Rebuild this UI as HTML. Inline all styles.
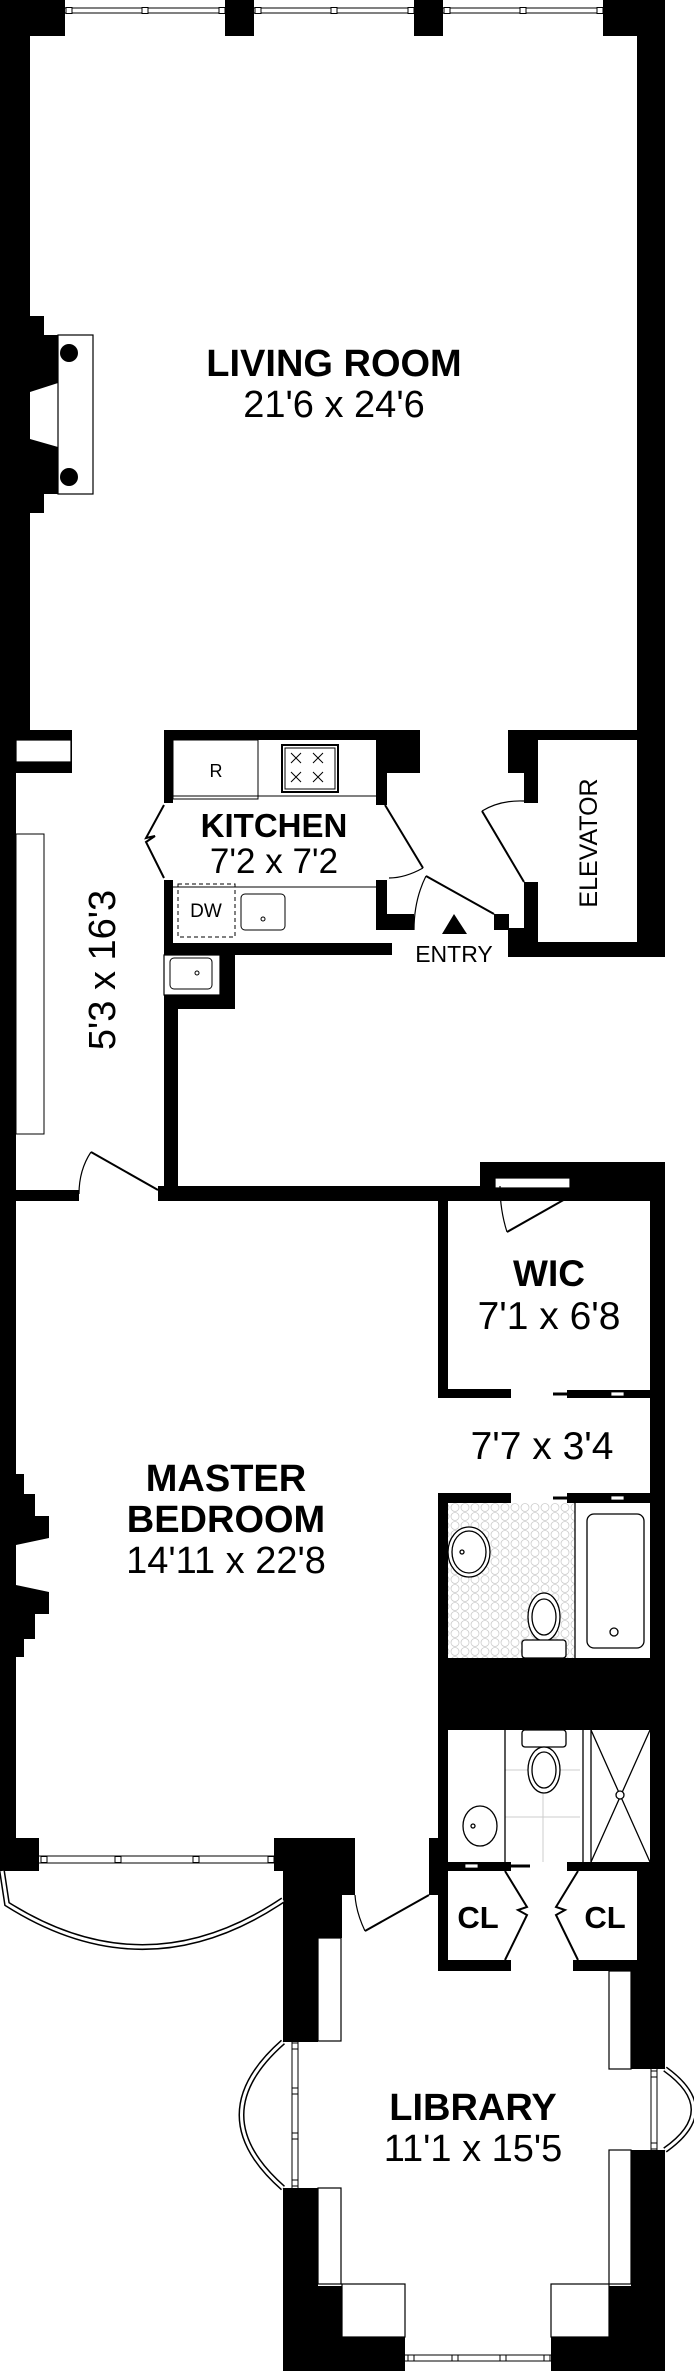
<!DOCTYPE html>
<html><head><meta charset="utf-8"><style>
html,body{margin:0;padding:0;background:#fff;}
svg{display:block;}
text{font-family:"Liberation Sans",Arial,sans-serif;fill:#000;}
.b{font-weight:bold;}
</style></head><body>
<svg width="694" height="2371" viewBox="0 0 694 2371" xmlns="http://www.w3.org/2000/svg">
<defs>
<pattern id="hex" width="10" height="9" patternUnits="userSpaceOnUse">
<circle cx="5" cy="4.5" r="4" fill="none" stroke="#ccc" stroke-width="0.8"/>
</pattern>
</defs>
<rect width="694" height="2371" fill="#fff"/>
<g fill="#000">
<rect x="0" y="0" width="665" height="36"/>
<rect x="0" y="0" width="30" height="730"/>
<rect x="637" y="0" width="28" height="957"/>
<rect x="0" y="316" width="44" height="197"/>
<rect x="0" y="335" width="58" height="159"/>
<rect x="0" y="730" width="72" height="43"/>
<rect x="0" y="773" width="16" height="1098"/>
<rect x="0" y="1190" width="79" height="11"/>
<rect x="164" y="730" width="256" height="10"/>
<rect x="376" y="730" width="44" height="43"/>
<rect x="376" y="773" width="11" height="32"/>
<rect x="164" y="740" width="9" height="63"/>
<rect x="164" y="880" width="9" height="65"/>
<rect x="376" y="880" width="11" height="34"/>
<rect x="376" y="914" width="38" height="16"/>
<rect x="164" y="943" width="228" height="12"/>
<rect x="220" y="955" width="15" height="54"/>
<rect x="164" y="995" width="71" height="14"/>
<rect x="164" y="1009" width="14" height="188"/>
<rect x="508" y="730" width="157" height="10"/>
<rect x="508" y="740" width="30" height="33"/>
<rect x="524" y="773" width="14" height="30"/>
<rect x="524" y="882" width="14" height="46"/>
<rect x="508" y="928" width="30" height="29"/>
<rect x="508" y="942" width="157" height="15"/>
<rect x="494" y="914" width="15" height="16"/>
<rect x="158" y="1186" width="507" height="15"/>
<rect x="480" y="1162" width="185" height="39"/>
<rect x="438" y="1200" width="10" height="198"/>
<rect x="438" y="1389" width="73" height="9"/>
<rect x="567" y="1390" width="98" height="8"/>
<rect x="650" y="1162" width="15" height="709"/>
<rect x="438" y="1493" width="73" height="10"/>
<rect x="567" y="1493" width="98" height="10"/>
<rect x="438" y="1493" width="10" height="371"/>
<rect x="438" y="1658" width="227" height="72"/>
<rect x="429" y="1862" width="82" height="9"/>
<rect x="567" y="1862" width="98" height="9"/>
<rect x="0" y="1474" width="24" height="183"/>
<rect x="0" y="1494" width="35" height="145"/>
<rect x="0" y="1516" width="49" height="98"/>
<rect x="0" y="1838" width="39" height="33"/>
<rect x="274" y="1838" width="81" height="33"/>
<rect x="429" y="1838" width="19" height="57"/>
<rect x="438" y="1871" width="10" height="100"/>
<rect x="438" y="1960" width="73" height="11"/>
<rect x="573" y="1960" width="92" height="11"/>
<rect x="637" y="1871" width="28" height="100"/>
<rect x="283" y="1871" width="72" height="24"/>
<rect x="283" y="1895" width="59" height="43"/>
<rect x="283" y="1938" width="35" height="104"/>
<rect x="283" y="2188" width="35" height="98"/>
<rect x="283" y="2286" width="59" height="51"/>
<rect x="283" y="2337" width="122" height="34"/>
<rect x="551" y="2337" width="114" height="34"/>
<rect x="609" y="2286" width="56" height="51"/>
<rect x="631" y="2150" width="34" height="136"/>
<rect x="631" y="1971" width="34" height="98"/>
</g>
<g fill="#fff" stroke="#000" stroke-width="1.2">
<rect x="65" y="-1" width="160" height="37" stroke="none"/>
<rect x="254" y="-1" width="160" height="37" stroke="none"/>
<rect x="443" y="-1" width="160" height="37" stroke="none"/>
<polygon points="30,392 58,383 58,447 30,439" stroke="none"/>
<rect x="58" y="335" width="35" height="159"/>
<rect x="16" y="740" width="55" height="22"/>
<rect x="164" y="955" width="56" height="40"/>
<rect x="495" y="1178" width="75" height="10"/>
<rect x="611" y="1392" width="13" height="4" stroke-width="0.8"/>
<rect x="611" y="1496" width="13" height="4" stroke-width="0.8"/>
<rect x="465" y="1864" width="13" height="4" stroke-width="0.8"/>
<polygon points="16,1545 49,1538 49,1592 16,1585" stroke="none"/>
<rect x="318" y="1938" width="23" height="103"/>
<rect x="318" y="2188" width="23" height="96"/>
<rect x="342" y="2284" width="63" height="53"/>
<rect x="551" y="2284" width="58" height="53"/>
<rect x="609" y="2150" width="22" height="134"/>
<rect x="609" y="1971" width="22" height="98"/>
<rect x="39" y="1845" width="235" height="24" stroke="none"/>
<rect x="283" y="2042" width="22" height="146" stroke="none"/>
<rect x="644" y="2069" width="22" height="81" stroke="none"/>
<rect x="405" y="2340" width="146" height="32" stroke="none"/>
</g>
<g stroke="#000" stroke-width="1" fill="#fff">
<line x1="65" y1="8" x2="225" y2="8"/><line x1="65" y1="13" x2="225" y2="13"/>
<line x1="254" y1="8" x2="414" y2="8"/><line x1="254" y1="13" x2="414" y2="13"/>
<line x1="443" y1="8" x2="603" y2="8"/><line x1="443" y1="13" x2="603" y2="13"/>
<rect x="66" y="7.5" width="6" height="6"/><rect x="142" y="7.5" width="6" height="6"/><rect x="219" y="7.5" width="6" height="6"/>
<rect x="255" y="7.5" width="6" height="6"/><rect x="331" y="7.5" width="6" height="6"/><rect x="408" y="7.5" width="6" height="6"/>
<rect x="444" y="7.5" width="6" height="6"/><rect x="520" y="7.5" width="6" height="6"/><rect x="597" y="7.5" width="6" height="6"/>
<line x1="39" y1="1856" x2="274" y2="1856"/><line x1="39" y1="1863" x2="274" y2="1863"/>
<rect x="41" y="1856.5" width="6" height="6"/><rect x="115" y="1856.5" width="6" height="6"/><rect x="193" y="1856.5" width="6" height="6"/><rect x="268" y="1856.5" width="6" height="6"/>
<line x1="292" y1="2042" x2="292" y2="2188"/><line x1="298" y1="2042" x2="298" y2="2188"/>
<rect x="292" y="2043" width="6" height="6"/><rect x="292" y="2088" width="6" height="6"/><rect x="292" y="2133" width="6" height="6"/><rect x="292" y="2180" width="6" height="6"/>
<line x1="651" y1="2069" x2="651" y2="2150"/><line x1="657" y1="2069" x2="657" y2="2150"/>
<rect x="651" y="2071" width="6" height="6"/><rect x="651" y="2143" width="6" height="6"/>
<line x1="405" y1="2355" x2="551" y2="2355"/><line x1="405" y1="2361" x2="551" y2="2361"/>
<rect x="408" y="2355" width="6" height="6"/><rect x="452" y="2355" width="6" height="6"/><rect x="500" y="2355" width="6" height="6"/><rect x="544" y="2355" width="6" height="6"/>
</g>
<g fill="none" stroke="#000" stroke-width="6">
<path d="M2,1871 L7,1904 Q146,1992 283,1900"/>
<path d="M283,2042 Q200,2115 283,2188"/>
<path d="M665,2069 Q722,2110 665,2150"/>
</g>
<g fill="none" stroke="#fff" stroke-width="3">
<path d="M2,1871 L7,1904 Q146,1992 283,1900"/>
<path d="M283,2042 Q200,2115 283,2188"/>
<path d="M665,2069 Q722,2110 665,2150"/>
</g>
<circle cx="69" cy="353" r="9" fill="#000"/>
<circle cx="69" cy="477" r="9" fill="#000"/>
<g fill="none" stroke="#000" stroke-width="1">
<rect x="173" y="740" width="85" height="59"/>
<line x1="173" y1="796" x2="376" y2="796"/>
<rect x="282" y="745" width="56" height="47" stroke-width="2"/>
<rect x="285" y="748" width="50" height="41"/>
<path d="M291,753 l10,10 M301,753 l-10,10 M313,753 l10,10 M323,753 l-10,10 M291,772 l10,10 M301,772 l-10,10 M313,772 l10,10 M323,772 l-10,10"/>
<line x1="173" y1="887" x2="376" y2="887"/>
<rect x="178" y="884" width="57" height="53" stroke-dasharray="4,3"/>
<rect x="241" y="894" width="44" height="36" rx="4"/>
<circle cx="263" cy="919" r="2"/>
<rect x="170" y="958" width="42" height="31" rx="4"/>
<circle cx="197" cy="973" r="2"/>
<rect x="16" y="834" width="28" height="300"/>
</g>
<g fill="none" stroke="#000" stroke-width="2">
<polyline points="164,805 146,838 155,836 146,842 164,878"/>
<line x1="385" y1="805" x2="423" y2="868"/>
<path d="M423,868 Q405,878 389,878" stroke-width="1.2"/>
<line x1="426" y1="876" x2="494" y2="914"/>
<path d="M426,876 Q414,900 414,930" stroke-width="1.2"/>
<line x1="524" y1="882" x2="482" y2="811"/>
<path d="M482,811 Q500,800 524,801" stroke-width="1.2"/>
<line x1="158" y1="1190" x2="91" y2="1152"/>
<path d="M91,1152 Q79,1170 79,1194" stroke-width="1.2"/>
<line x1="567" y1="1198" x2="507" y2="1232"/>
<path d="M507,1232 Q500,1210 500,1186" stroke-width="1.2"/>
<line x1="429" y1="1895" x2="365" y2="1931"/>
<path d="M365,1931 Q356,1912 355,1895" stroke-width="1.2"/>
<polyline points="505,1871 527,1907 518,1910 527,1915 505,1960"/>
<polyline points="578,1871 556,1907 565,1910 556,1915 578,1960"/>
<line x1="553" y1="1394" x2="567" y2="1394" stroke-width="3"/>
<line x1="553" y1="1498" x2="567" y2="1498" stroke-width="3"/>
<line x1="511" y1="1866" x2="530" y2="1866" stroke-width="3"/>
</g>
<polygon points="454,914 442,934 467,934" fill="#000"/>
<rect x="448" y="1503" width="127" height="155" fill="url(#hex)"/>
<g fill="#fff" stroke="#000" stroke-width="1.3">
<line x1="575" y1="1503" x2="575" y2="1658"/>
<rect x="587" y="1514" width="57" height="134" rx="7"/>
<circle cx="614" cy="1632" r="4"/>
<ellipse cx="469" cy="1552" rx="21" ry="25"/>
<ellipse cx="469" cy="1552" rx="17" ry="21"/>
<circle cx="462" cy="1552" r="2"/>
<ellipse cx="544" cy="1617" rx="16" ry="24"/>
<ellipse cx="544" cy="1617" rx="12" ry="18"/>
<rect x="522" y="1640" width="44" height="18" rx="3"/>
<g stroke="#ccc" stroke-width="1"><line x1="505" y1="1770" x2="580" y2="1770"/><line x1="505" y1="1817" x2="580" y2="1817"/><line x1="543" y1="1770" x2="543" y2="1862"/></g>
<line x1="505" y1="1730" x2="505" y2="1862"/>
<line x1="583" y1="1730" x2="583" y2="1862"/>
<line x1="591" y1="1730" x2="591" y2="1862"/>
<path d="M591,1730 L650,1862 M650,1730 L591,1862" fill="none"/>
<circle cx="620" cy="1795" r="4"/>
<rect x="522" y="1730" width="44" height="17" rx="3"/>
<ellipse cx="544" cy="1770" rx="16" ry="23"/>
<ellipse cx="544" cy="1770" rx="12" ry="18"/>
<ellipse cx="480" cy="1826" rx="17" ry="20"/>
<circle cx="473" cy="1826" r="2"/>
</g>
<text x="334" y="376" font-size="38" class="b" text-anchor="middle">LIVING ROOM</text>
<text x="334" y="417" font-size="38" text-anchor="middle">21'6 x 24'6</text>
<text x="216" y="777" font-size="18" text-anchor="middle">R</text>
<text x="274" y="837" font-size="33" class="b" text-anchor="middle">KITCHEN</text>
<text x="274" y="873" font-size="35" text-anchor="middle">7'2 x 7'2</text>
<text x="206" y="917" font-size="19" text-anchor="middle">DW</text>
<text x="454" y="962" font-size="23" text-anchor="middle">ENTRY</text>
<text transform="translate(597,843) rotate(-90)" font-size="25" text-anchor="middle">ELEVATOR</text>
<text transform="translate(115,970) rotate(-90)" font-size="38" text-anchor="middle">5'3 x 16'3</text>
<text x="549" y="1286" font-size="37" class="b" text-anchor="middle">WIC</text>
<text x="549" y="1329" font-size="39" text-anchor="middle">7'1 x 6'8</text>
<text x="542" y="1459" font-size="39" text-anchor="middle">7'7 x 3'4</text>
<text x="226" y="1491" font-size="38" class="b" text-anchor="middle">MASTER</text>
<text x="226" y="1532" font-size="38" class="b" text-anchor="middle">BEDROOM</text>
<text x="226" y="1573" font-size="38" text-anchor="middle">14'11 x 22'8</text>
<text x="478" y="1928" font-size="31" class="b" text-anchor="middle">CL</text>
<text x="605" y="1928" font-size="31" class="b" text-anchor="middle">CL</text>
<text x="473" y="2120" font-size="38" class="b" text-anchor="middle">LIBRARY</text>
<text x="473" y="2161" font-size="38" text-anchor="middle">11'1 x 15'5</text>
</svg>
</body></html>
